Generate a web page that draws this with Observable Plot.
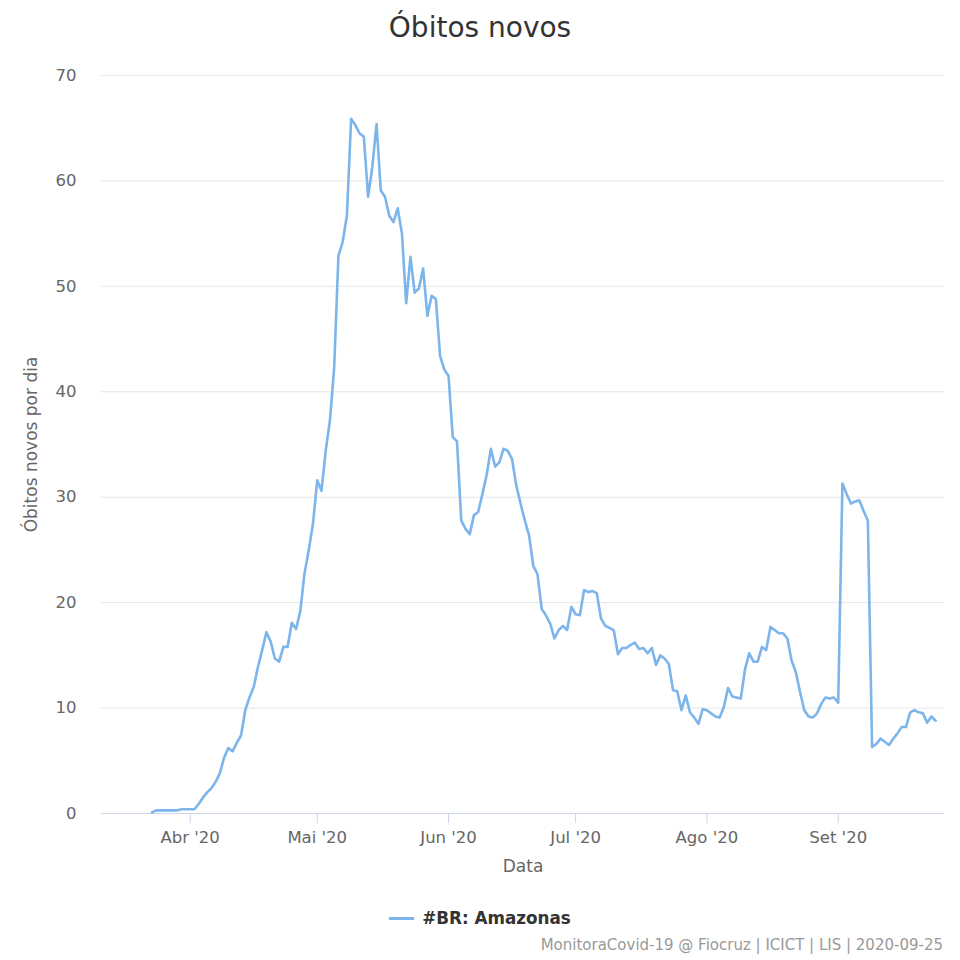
<!DOCTYPE html>
<html>
<head>
<meta charset="utf-8">
<script src="https://cdn.jsdelivr.net/npm/d3@7"></script>
<script src="https://cdn.jsdelivr.net/npm/@observablehq/plot@0.6"></script>
<style>
  html, body { margin: 0; padding: 0; background: #fff; }
  body { width: 960px; height: 960px; font-family: "DejaVu Sans", sans-serif; position: relative; overflow: hidden; }
  #title { position: absolute; top: 0; left: 0; width: 960px; height: 55px; text-align: center; font-size: 28px; line-height: 56px; color: #333; }
  #chart { position: absolute; top: 55px; left: 0; }
  #legend { position: absolute; top: 908px; left: 0; width: 960px; text-align: center; font-size: 16.8px; font-weight: bold; color: #333; }
  #legend .sw { display: inline-block; width: 25px; height: 3px; background: #7cb5ec; vertical-align: middle; margin-right: 8px; position: relative; top: -1px; }
  #caption { position: absolute; top: 936px; right: 17px; font-size: 15px; color: #999; }
</style>
</head>
<body>
<div id="title">Óbitos novos</div>
<div id="chart"></div>
<div id="legend"><span class="sw"></span>#BR: Amazonas</div>
<div id="caption">MonitoraCovid-19 @ Fiocruz | ICICT | LIS | 2020-09-25</div>
<script>
// Series: daily new deaths, Amazonas, starting 2020-03-23
const startDate = "2020-03-23";
const seriesName = "#BR: Amazonas";
const values = [
  0.1, 0.3, 0.3, 0.3, 0.3, 0.3, 0.3, 0.4, 0.4, 0.4, 0.4,            // Mar 23 - Apr 2
  0.9, 1.5, 2.0, 2.4, 3.0, 3.8, 5.3, 6.2, 5.9, 6.7,                 // Apr 3 - Apr 12
  7.4, 9.8, 11.0, 12.0, 13.9, 15.5, 17.2, 16.3, 14.7, 14.4,         // Apr 13 - Apr 22
  15.8, 15.8, 18.1, 17.5, 19.2, 22.8, 25.0, 27.5,                   // Apr 23 - Apr 30
  31.6, 30.6, 34.4, 37.3, 42.3, 52.9, 54.2, 56.7, 65.9, 65.3,       // May 1 - May 10
  64.5, 64.2, 58.5, 61.3, 65.4, 59.1, 58.5, 56.7, 56.1, 57.4,       // May 11 - May 20
  55.0, 48.4, 52.8, 49.4, 49.8, 51.7, 47.2, 49.1, 48.8, 43.4, 42.1, // May 21 - May 31
  41.5, 35.7, 35.3, 27.8, 27.0, 26.5, 28.3, 28.6, 30.3, 32.1,       // Jun 1 - Jun 10
  34.6, 32.9, 33.3, 34.6, 34.4, 33.6, 31.1, 29.4, 27.8, 26.4,       // Jun 11 - Jun 20
  23.5, 22.7, 19.4, 18.8, 18.0, 16.6, 17.4, 17.8, 17.4, 19.6,       // Jun 21 - Jun 30
  18.9, 18.8, 21.2, 21.0, 21.1, 20.9, 18.5, 17.8, 17.6, 17.4,       // Jul 1 - Jul 10
  15.1, 15.7, 15.7, 16.0, 16.2, 15.6, 15.7, 15.2, 15.7, 14.1,       // Jul 11 - Jul 20
  15.0, 14.7, 14.2, 11.7, 11.6, 9.8, 11.2, 9.6, 9.1, 8.5, 9.9,      // Jul 21 - Jul 31
  9.8, 9.5, 9.2, 9.1, 10.1, 11.9, 11.1, 11.0, 10.9, 13.7,           // Aug 1 - Aug 10
  15.2, 14.4, 14.4, 15.8, 15.5, 17.7, 17.4, 17.1, 17.1, 16.6,       // Aug 11 - Aug 20
  14.5, 13.4, 11.5, 9.8, 9.2, 9.1, 9.5, 10.4, 11.0, 10.9, 11.0,     // Aug 21 - Aug 31
  10.5, 31.3, 30.3, 29.4, 29.6, 29.7, 28.7, 27.8, 6.3, 6.6,         // Sep 1 - Sep 10
  7.1, 6.8, 6.5, 7.1, 7.6, 8.2, 8.2, 9.6, 9.8, 9.6,                 // Sep 11 - Sep 20
  9.5, 8.6, 9.2, 8.8                                                // Sep 21 - Sep 24
];
const monthTicks = ["2020-04-01", "2020-05-01", "2020-06-01", "2020-07-01", "2020-08-01", "2020-09-01"];
const monthLabels = ["Abr '20", "Mai '20", "Jun '20", "Jul '20", "Ago '20", "Set '20"];
const yTicks = [0, 10, 20, 30, 40, 50, 60, 70];

const DAY = 86400000;
const t0 = new Date(startDate + "T00:00:00Z").getTime();
const data = values.map((v, i) => ({date: new Date(t0 + i * DAY), value: v}));
const tickDates = monthTicks.map(s => new Date(s + "T00:00:00Z"));
const labelOf = new Map(tickDates.map((d, i) => [d.getTime(), monthLabels[i]]));
const apr1 = tickDates[0].getTime();

const chart = Plot.plot({
  width: 960,
  height: 830,
  marginTop: 20,
  marginBottom: 72,
  marginLeft: 101,
  marginRight: 16,
  style: {fontFamily: "DejaVu Sans, sans-serif", fontSize: "14px", color: "#666", background: "#fff"},
  x: {type: "utc", domain: [new Date(apr1 - 20.94 * DAY), new Date(apr1 + 178.1 * DAY)]},
  y: {domain: [0, 70]},
  marks: [
    Plot.gridY(yTicks.filter(d => d > 0), {stroke: "#e6e6e6", strokeOpacity: 1}),
    Plot.ruleY([0], {stroke: "#ccd6eb", strokeWidth: 1}),
    Plot.axisY(yTicks, {
      tickSize: 0, tickPadding: 25, fill: "#666", fontSize: 16.5,
      label: "Óbitos novos por dia", labelAnchor: "center", labelOffset: 77, labelArrow: "none"
    }),
    Plot.axisX(tickDates, {
      tickSize: 10, tickPadding: 8, stroke: "#ccd6eb", fill: "#666", fontSize: 16.5,
      tickFormat: d => labelOf.get(d.getTime()),
      label: "Data", labelAnchor: "center", labelOffset: 58, labelArrow: "none"
    }),
    Plot.lineY(data, {x: "date", y: "value", stroke: "#7cb5ec", strokeWidth: 2.6, curve: "linear"})
  ]
});
// axis titles slightly larger than tick labels
chart.querySelectorAll("g[aria-label='x-axis label'] text, g[aria-label='y-axis label'] text").forEach(t => t.setAttribute("font-size", "17"));
document.getElementById("chart").appendChild(chart);
</script>
</body>
</html>
